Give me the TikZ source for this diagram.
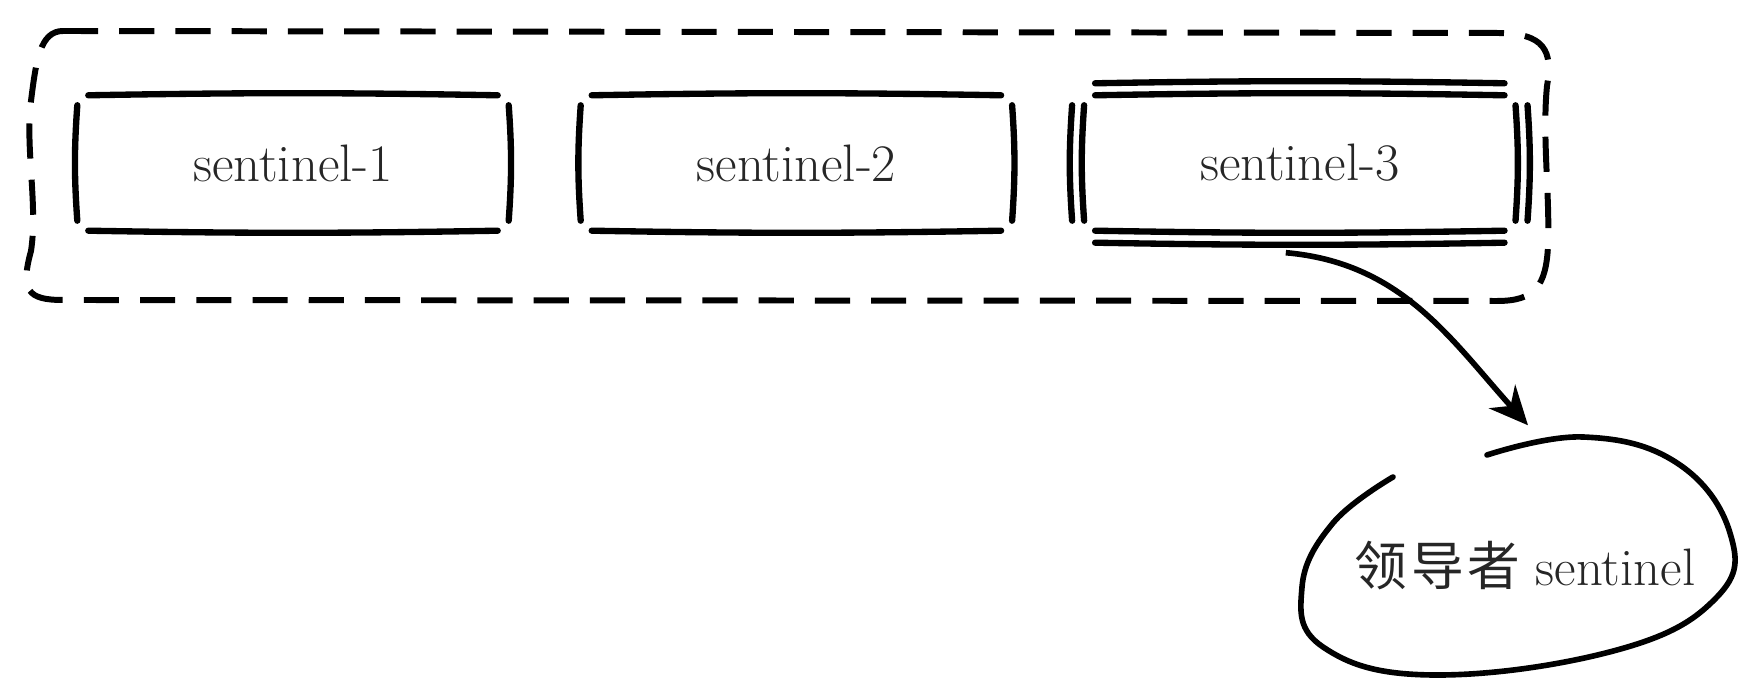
\documentclass[tikz,border=0pt]{standalone}
\usepackage{fontspec}
\newfontfamily\cjk{Noto Sans CJK SC}
\usetikzlibrary{positioning,arrows.meta}

\tikzset{
  sketch/.style={line width=1.8pt, line cap=round},
  sbox/.style={minimum width=4.3cm, minimum height=1.34cm, inner sep=0pt,
    font=\fontsize{15}{18}\selectfont, text=black!85},
}
% hand drawn box round a node: node name, outward offset
\newcommand{\sketchbox}[2]{%
  \draw[sketch] ([xshift=1.1mm,yshift=#2]#1.north west) to[bend left=1] ([xshift=-1.1mm,yshift=#2]#1.north east);
  \draw[sketch] ([xshift=1.1mm,yshift=-#2]#1.south west) to[bend right=1] ([xshift=-1.1mm,yshift=-#2]#1.south east);
  \draw[sketch] ([xshift=-#2,yshift=-1mm]#1.north west) to[bend right=4] ([xshift=-#2,yshift=1mm]#1.south west);
  \draw[sketch] ([xshift=#2,yshift=-1mm]#1.north east) to[bend left=4] ([xshift=#2,yshift=1mm]#1.south east);
}

\begin{document}
\begin{tikzpicture}
\useasboundingbox (0,0) rectangle (17.52,6.96);
% the sentinels together
\draw [line width=1.7pt, dash pattern=on 10pt off 6pt]
  (0.63,6.65) -- (14.97,6.63) .. controls (15.45,6.63) and (15.53,6.45) .. (15.47,6.1)
  .. controls (15.42,5.6) and (15.5,5.0) .. (15.48,4.5)
  .. controls (15.46,4.1) and (15.35,3.95) .. (14.97,3.95) -- (0.63,3.96)
  .. controls (0.28,3.96) and (0.2,4.05) .. (0.31,4.45)
  .. controls (0.38,4.9) and (0.25,5.5) .. (0.31,5.95)
  .. controls (0.36,6.35) and (0.4,6.65) .. (0.63,6.65);

\node[sbox] (s1) at (2.93,5.33) {sentinel-1};
\node[sbox, right=7.2mm of s1] (s2) {sentinel-2};
\node[sbox, right=7.2mm of s2] (s3) {sentinel-3};
\sketchbox{s1}{0pt}
\sketchbox{s2}{0pt}
\sketchbox{s3}{0pt}
\sketchbox{s3}{1.2mm}

% the leader
\node[font=\fontsize{15}{18}\selectfont, text=black!85,
  minimum width=4.3cm, minimum height=2.8cm] (lead) at (15.25,1.30) {{\cjk 领\kern1pt 导\kern1pt 者} sentinel};
\draw [line width=1.6pt, line cap=round] plot[smooth, tension=.7]
 coordinates{(14.87,2.41) (15.83,2.59) (16.77,2.33) (17.30,1.63) (17.17,0.99) (16.17,0.46)
  (14.33,0.21) (13.23,0.49) (13.02,1.09) (13.33,1.73) (13.93,2.19)};
\draw [line width=1.6pt, -{Stealth[length=11pt,width=10pt]}]
  ([xshift=-1.4mm,yshift=-2.2mm]s3.south) to[out=-5,in=132] ([xshift=0.3mm]lead.north);
\end{tikzpicture}
\end{document}
